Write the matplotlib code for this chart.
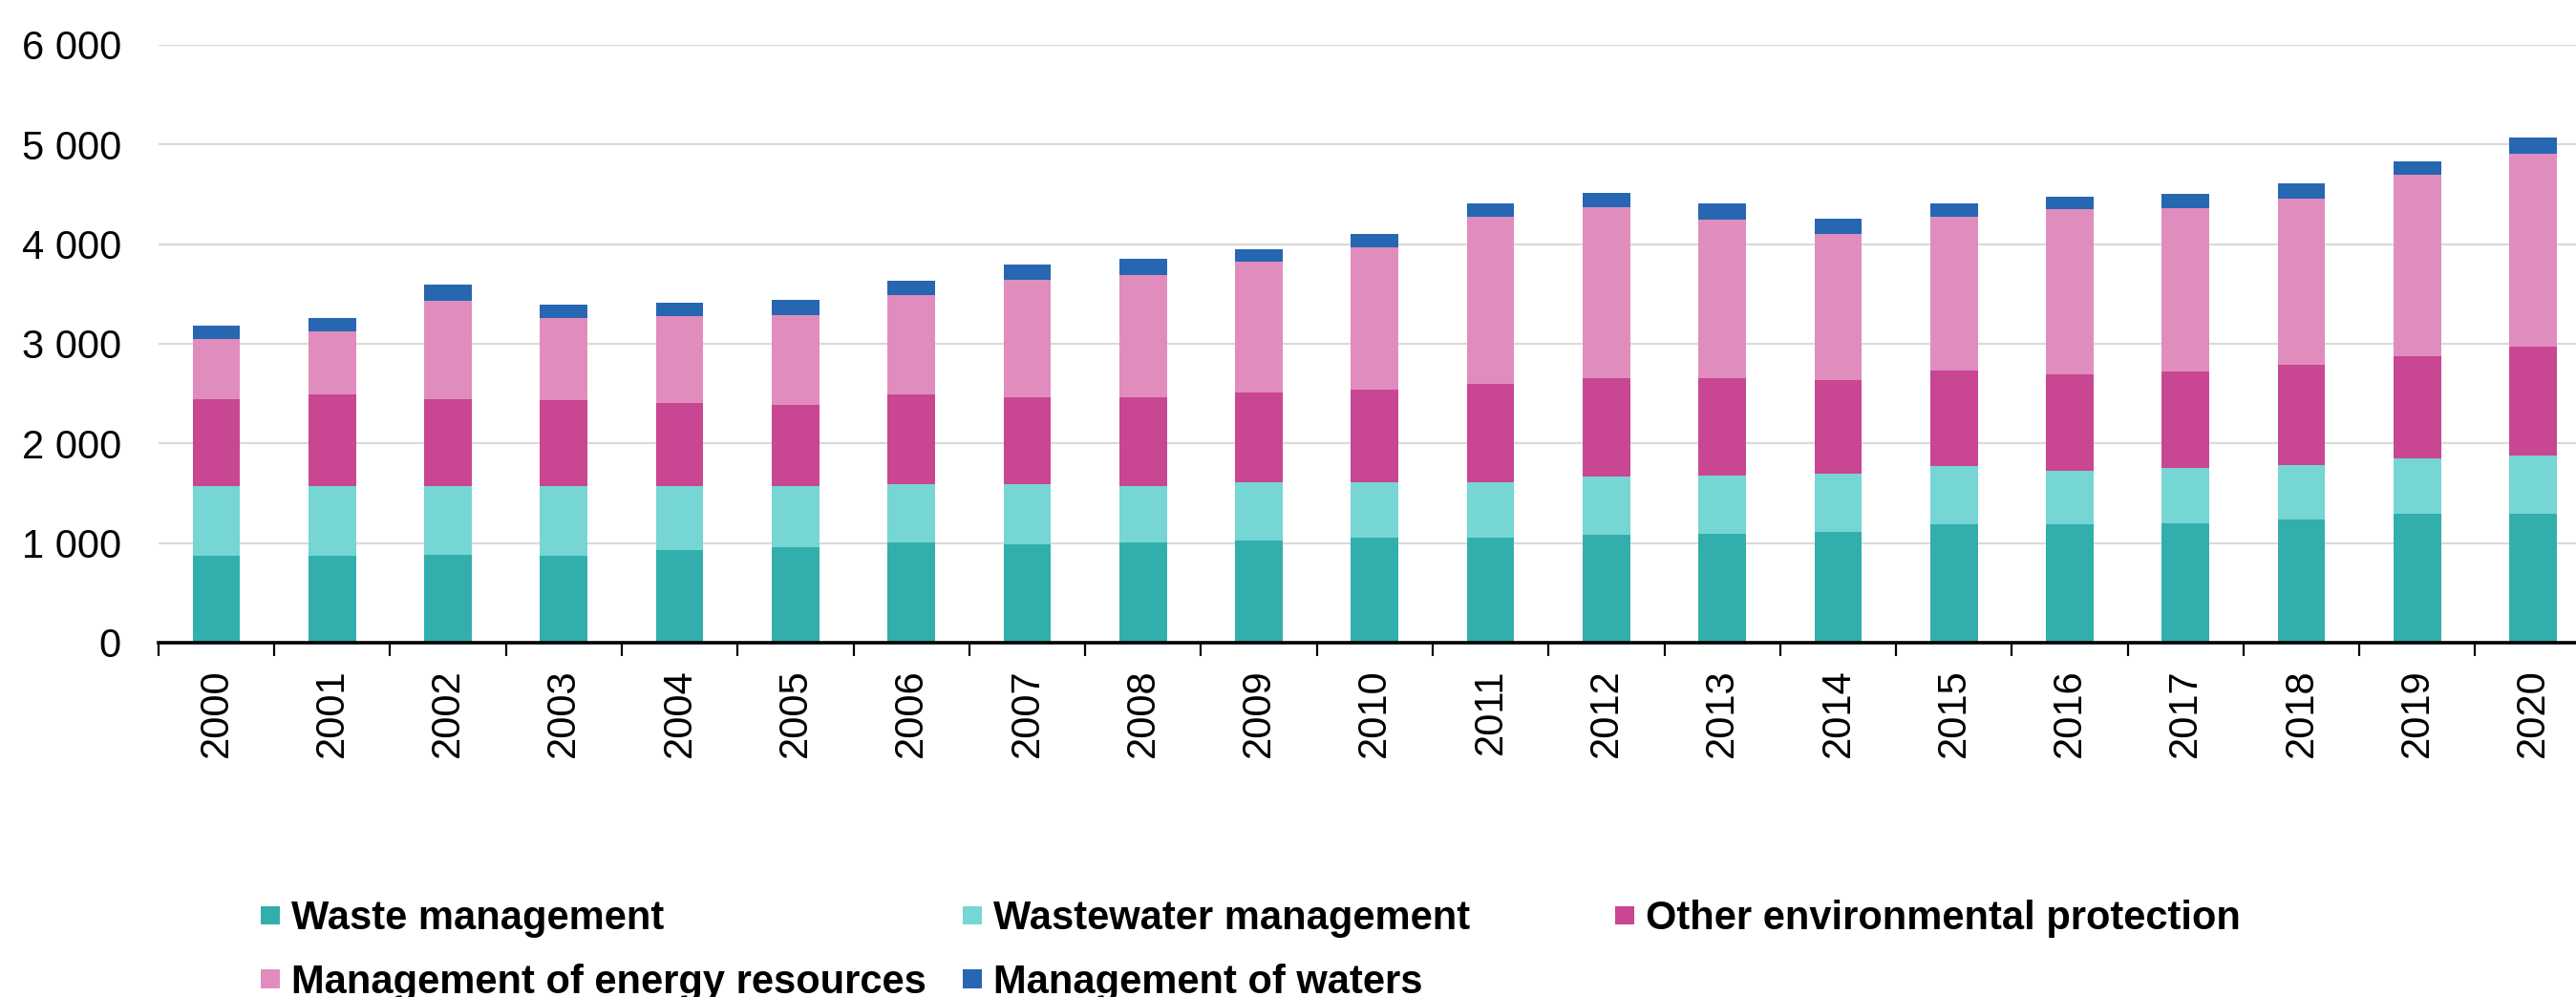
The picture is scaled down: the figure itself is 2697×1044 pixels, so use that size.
import numpy as np
import matplotlib
matplotlib.use("Agg")
import matplotlib.pyplot as plt
from matplotlib.ticker import FuncFormatter, FixedLocator

# --- Data ---
years = [str(y) for y in range(2000, 2021)]

waste = [875, 875, 882, 875, 930, 956, 1006, 984, 1006, 1027, 1057,
         1057, 1087, 1090, 1108, 1185, 1185, 1194, 1237, 1292, 1292]
wastewater = [697, 697, 690, 697, 642, 616, 586, 608, 564, 586, 556,
              556, 582, 585, 591, 591, 544, 556, 547, 557, 586]
other_env = [870, 918, 870, 860, 837, 815, 898, 868, 890, 899, 929,
             984, 984, 975, 941, 958, 963, 967, 1006, 1026, 1096]
energy = [605, 633, 990, 831, 873, 902, 997, 1181, 1229, 1313, 1425,
          1678, 1720, 1600, 1464, 1545, 1660, 1643, 1669, 1819, 1934]
waters = [139, 140, 160, 131, 134, 150, 150, 150, 162, 120, 137,
          132, 141, 157, 149, 128, 128, 141, 149, 141, 163]

series = [
    ("Waste management", waste, "#32AFAC"),
    ("Wastewater management", wastewater, "#75D6D4"),
    ("Other environmental protection", other_env, "#C94693"),
    ("Management of energy resources", energy, "#E08DBE"),
    ("Management of waters", waters, "#2766B1"),
]

# --- Styling setup ---
plt.rcParams["font.family"] = ["Liberation Sans", "DejaVu Sans"]
tick_size = 30
legend_size = 30

fig = plt.figure(figsize=(26.97, 10.44), dpi=100)
ax = fig.add_axes([0.0615, 0.3554, 0.9385, 0.5996])

x = np.arange(len(years))
bottom = np.zeros(len(years))
bars = {}
for name, vals, color in series:
    bars[name] = ax.bar(x, vals, width=0.41, bottom=bottom, color=color,
                        label=name, zorder=3)
    bottom += np.array(vals)

# axes limits and grid
ax.set_xlim(-0.5, 20.37)
ax.set_ylim(0, 6000)
ax.set_yticks(range(0, 6001, 1000))
ax.yaxis.set_major_formatter(FuncFormatter(lambda v, p: f"{v:,.0f}".replace(",", " ")))
ax.grid(axis="y", color="#DADADA", linewidth=1.6, zorder=0)
ax.grid(axis="x", visible=False)

for side in ["top", "right", "left"]:
    ax.spines[side].set_visible(False)
ax.spines["bottom"].set_linewidth(2.6)
ax.spines["bottom"].set_color("black")
ax.spines["bottom"].set_zorder(4)

# year labels at bar centres, tick marks at category edges
ax.set_xticks(x)
ax.set_xticklabels(years, rotation=90, fontsize=tick_size)
ax.tick_params(axis="x", which="major", length=0, pad=19.5)
ax.xaxis.set_minor_locator(FixedLocator(np.arange(-0.5, 20.6, 1.0)))
ax.tick_params(axis="x", which="minor", length=10, width=1.6, direction="out", color="black")
ax.tick_params(axis="y", length=0, pad=28, labelsize=tick_size)

# --- Legend laid out in three columns ---
leg_kw = dict(loc="upper left", frameon=False,
              prop={"weight": "bold", "size": legend_size},
              handlelength=0.48, handleheight=0.36, handletextpad=0.28,
              borderpad=0, borderaxespad=0, labelspacing=0.63)
names = [s[0] for s in series]
fig.legend([bars[names[0]], bars[names[3]]], [names[0], names[3]],
           bbox_to_anchor=(0.1012, 0.0973), **leg_kw)
fig.legend([bars[names[1]], bars[names[4]]], [names[1], names[4]],
           bbox_to_anchor=(0.3737, 0.0973), **leg_kw)
fig.legend([bars[names[2]]], [names[2]],
           bbox_to_anchor=(0.627, 0.0973), **leg_kw)

plt.savefig("out.png", dpi=100)
plt.close()
